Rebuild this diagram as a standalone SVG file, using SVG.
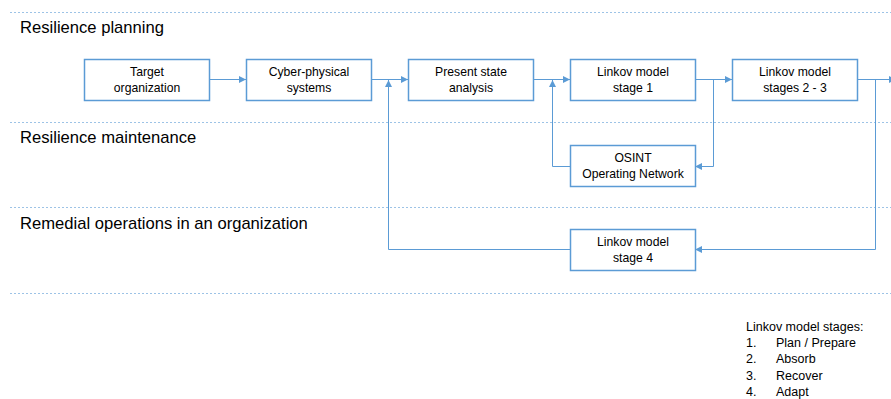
<svg xmlns="http://www.w3.org/2000/svg" width="891" height="399" viewBox="0 0 891 399">
<style>
.lane{stroke:#9dc3e6;stroke-width:1;stroke-dasharray:2 2;fill:none}
.lbl{font-family:"Liberation Sans",Arial,sans-serif;font-size:16.6px;fill:#000}
.box{fill:#fff;stroke:#5b9bd5;stroke-width:1.5}
.t{font-family:"Liberation Sans",Arial,sans-serif;font-size:12.2px;fill:#000;text-anchor:middle}
.c{fill:none;stroke:#5b9bd5;stroke-width:1}
.lg{font-family:"Liberation Sans",Arial,sans-serif;font-size:12.5px;fill:#000}
</style>
<defs>
<marker id="ah" markerWidth="8" markerHeight="8" refX="7" refY="4" orient="auto" markerUnits="userSpaceOnUse">
<path d="M0,0.5 L7,4 L0,7.5 Z" fill="#5b9bd5"/>
</marker>
</defs>
<rect width="891" height="399" fill="#fff"/>
<g id="lanes">
<line class="lane" x1="10" y1="12.5" x2="891" y2="12.5"/>
<line class="lane" x1="10" y1="122.5" x2="891" y2="122.5"/>
<line class="lane" x1="10" y1="207.5" x2="891" y2="207.5"/>
<line class="lane" x1="10" y1="293.5" x2="891" y2="293.5"/>
<text class="lbl" x="20" y="33">Resilience planning</text>
<text class="lbl" x="20" y="143">Resilience maintenance</text>
<text class="lbl" x="20" y="229">Remedial operations in an organization</text>
</g>
<g id="connectors">
<line class="c" x1="209" y1="79.5" x2="246" y2="79.5" marker-end="url(#ah)"/>
<line class="c" x1="371" y1="79.5" x2="408" y2="79.5" marker-end="url(#ah)"/>
<line class="c" x1="533" y1="79.5" x2="570" y2="79.5" marker-end="url(#ah)"/>
<line class="c" x1="695" y1="79.5" x2="732" y2="79.5" marker-end="url(#ah)"/>
<line class="c" x1="857" y1="79.5" x2="896" y2="79.5" marker-end="url(#ah)"/>
<polyline class="c" points="713.5,79.5 713.5,166.5 695,166.5" marker-end="url(#ah)"/>
<polyline class="c" points="570,166.5 552.5,166.5 552.5,80" marker-end="url(#ah)"/>
<polyline class="c" points="875.5,79.5 875.5,249.5 695,249.5" marker-end="url(#ah)"/>
<polyline class="c" points="570,249.5 388.5,249.5 388.5,80" marker-end="url(#ah)"/>
</g>
<g id="n1"><rect class="box" x="84.5" y="59.5" width="125" height="41"/><text class="t" x="147" y="76">Target</text><text class="t" x="147" y="92">organization</text></g>
<g id="n2"><rect class="box" x="246.5" y="59.5" width="125" height="41"/><text class="t" x="309" y="76">Cyber-physical</text><text class="t" x="309" y="92">systems</text></g>
<g id="n3"><rect class="box" x="408.5" y="59.5" width="125" height="41"/><text class="t" x="471" y="76">Present state</text><text class="t" x="471" y="92">analysis</text></g>
<g id="n4"><rect class="box" x="570.5" y="59.5" width="125" height="41"/><text class="t" x="633" y="76">Linkov model</text><text class="t" x="633" y="92">stage 1</text></g>
<g id="n5"><rect class="box" x="732.5" y="59.5" width="125" height="41"/><text class="t" x="795" y="76">Linkov model</text><text class="t" x="795" y="92">stages 2 - 3</text></g>
<g id="n6"><rect class="box" x="570.5" y="145.5" width="125" height="41"/><text class="t" x="633" y="162">OSINT</text><text class="t" x="633" y="178">Operating Network</text></g>
<g id="n7"><rect class="box" x="570.5" y="229.5" width="125" height="41"/><text class="t" x="633" y="246">Linkov model</text><text class="t" x="633" y="262">stage 4</text></g>
<g id="legend">
<text class="lg" x="746" y="331">Linkov model stages:</text>
<text class="lg" x="746" y="347">1.</text><text class="lg" x="776" y="347">Plan / Prepare</text>
<text class="lg" x="746" y="363">2.</text><text class="lg" x="776" y="363">Absorb</text>
<text class="lg" x="746" y="380">3.</text><text class="lg" x="776" y="380">Recover</text>
<text class="lg" x="746" y="396">4.</text><text class="lg" x="776" y="396">Adapt</text>
</g>
</svg>
